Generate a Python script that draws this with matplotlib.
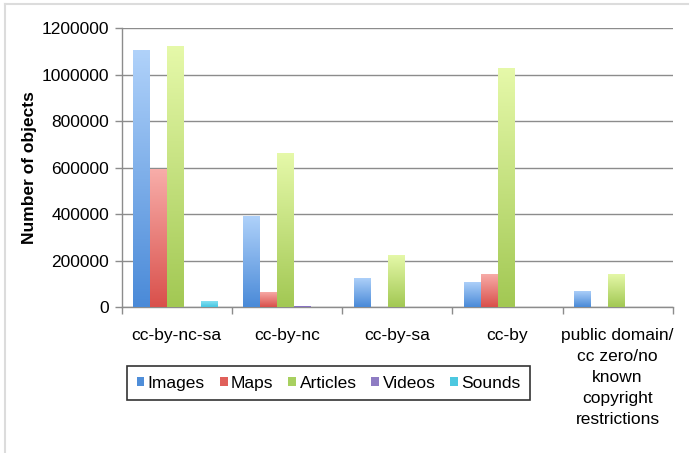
import numpy as np
import matplotlib.pyplot as plt
from matplotlib.colors import LinearSegmentedColormap
from matplotlib.lines import Line2D
from matplotlib.patches import Patch

plt.rcParams['font.family'] = ['Liberation Sans', 'DejaVu Sans']

# Data
licences = ['cc-by-nc-sa', 'cc-by-nc', 'cc-by-sa', 'cc-by',
            'public domain/\ncc zero/no\nknown\ncopyright\nrestrictions']
series = ['Images', 'Maps', 'Articles', 'Videos', 'Sounds']
images = [1105000, 393000, 125000, 110000, 70000]
maps = [596000, 66000, 0, 143000, 0]
articles = [1124000, 665000, 225000, 1031000, 143000]
videos = [0, 7000, 0, 0, 0]
sounds = [28000, 0, 0, 0, 0]
values = [images, maps, articles, videos, sounds]

# (top colour, bottom colour, legend colour)
colours = [
    ('#b0d2fa', '#4a8ad8', '#4f8ed9'),
    ('#f8aeaa', '#d9504b', '#e0605a'),
    ('#e6f9aa', '#a2c853', '#a8d060'),
    ('#b4a2e0', '#7a62b8', '#8e7cc3'),
    ('#8fe4f4', '#45c6e2', '#4dc8e0'),
]

fig = plt.figure(figsize=(6.9, 4.53), dpi=100)
ax = fig.add_axes([121.7 / 690, 1 - 307.3 / 453, (672.7 - 121.7) / 690, 279 / 453])

x = np.arange(len(licences))
w = 0.154
grad = np.linspace(0, 1, 256).reshape(-1, 1)
for i, (vals, (top, bot, _)) in enumerate(zip(values, colours)):
    cmap = LinearSegmentedColormap.from_list('g%d' % i, [bot, top])
    bars = ax.bar(x + (i - 2) * w - 0.01, vals, w, color='none', edgecolor='none', zorder=3)
    for b in bars:
        h = b.get_height()
        if h <= 0:
            continue
        im = ax.imshow(grad, extent=[b.get_x(), b.get_x() + b.get_width(), 0, h],
                       aspect='auto', cmap=cmap, origin='lower', zorder=3)
        im.set_clip_path(b)

ax.set_xlim(-0.5, len(licences) - 0.5)
ax.set_ylim(0, 1200000)
ax.set_yticks(np.arange(0, 1200001, 200000))
ax.set_yticklabels([str(v) for v in range(0, 1200001, 200000)], fontsize=12.5)
ax.yaxis.grid(True, color='#8c8c8c', linewidth=1.0)
ax.set_axisbelow(True)

ax.set_xticks(np.arange(len(licences) + 1) - 0.5)
ax.set_xticklabels([])
ax.set_xticks(x, minor=True)
ax.set_xticklabels(licences, minor=True, fontsize=12.5, linespacing=1.5)
ax.tick_params(axis='x', which='minor', length=0, pad=15)
ax.tick_params(axis='x', which='major', length=5, color='#8c8c8c', width=1)
ax.tick_params(axis='y', length=5, color='#8c8c8c', width=1, pad=4)

for s in ['top', 'right']:
    ax.spines[s].set_visible(False)
for s in ['left', 'bottom']:
    ax.spines[s].set_color('#8c8c8c')
    ax.spines[s].set_linewidth(1.0)

ax.set_ylabel('Number of objects', fontsize=12.5, fontweight='bold', va='center')
ax.yaxis.set_label_coords((30 - 121.7) / 551, 0.5)

handles = [Patch(facecolor=c[2], edgecolor='none') for c in colours]
leg = fig.legend(handles, series, loc='upper left', bbox_to_anchor=(127 / 690, 1 - 366 / 453),
                 ncol=5, fontsize=12.5, frameon=True, fancybox=False, borderpad=0.55,
                 handlelength=0.45, handleheight=0.45, handletextpad=0.2, columnspacing=0.85,
                 borderaxespad=0)
leg.get_frame().set_edgecolor('black')
leg.get_frame().set_linewidth(1.2)

# faint border of the original image
fig.add_artist(Line2D([5 / 690, 5 / 690], [0, 1 - 4 / 453], color='#dcdcdc', lw=1.5))
fig.add_artist(Line2D([5 / 690, 688 / 690], [1 - 4 / 453, 1 - 4 / 453], color='#dcdcdc', lw=1.5))

fig.savefig('out.png', dpi=100)
